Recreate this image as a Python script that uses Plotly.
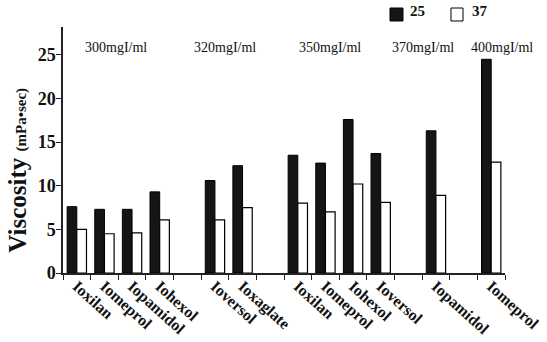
import plotly.graph_objects as go

# Contrast agents, one slot each; empty strings are spacer slots between concentration groups
slot_labels = ["Ioxilan", "Iomeprol", "Iopamidol", "Iohexol", "",
               "Ioversol", "Ioxaglate", "",
               "Ioxilan", "Iomeprol", "Iohexol", "Ioversol", "",
               "Iopamidol", "",
               "Iomeprol"]
# Viscosity (mPa·sec) at 25 °C and 37 °C
visc_25 = [7.6, 7.3, 7.3, 9.3, None, 10.6, 12.3, None, 13.5, 12.6, 17.6, 13.7, None, 16.3, None, 24.5]
visc_37 = [5.0, 4.5, 4.6, 6.1, None, 6.1, 7.5, None, 8.0, 7.0, 10.2, 8.1, None, 8.9, None, 12.7]
temps = ["25", "37"]
concentrations = ["300mgI/ml", "320mgI/ml", "350mgI/ml", "370mgI/ml", "400mgI/ml"]
y_ticks = [0, 5, 10, 15, 20, 25]

SERIF = "Liberation Serif"
slots = list(range(len(slot_labels)))

fig = go.Figure()
fig.add_trace(go.Bar(x=slots, y=visc_25, name=temps[0],
                     marker=dict(color="#151515", line=dict(color="#000", width=1))))
fig.add_trace(go.Bar(x=slots, y=visc_37, name=temps[1],
                     marker=dict(color="#ffffff", line=dict(color="#000", width=1.2))))
# carrier trace for the label axis
fig.add_trace(go.Scatter(x=slots, y=[None] * len(slots), xaxis="x2", yaxis="y",
                         mode="markers", showlegend=False, hoverinfo="skip"))

fig.update_layout(
    width=547, height=342,
    margin=dict(l=63, r=42, t=27, b=69),
    paper_bgcolor="white", plot_bgcolor="white",
    barmode="group", bargap=0.3, bargroupgap=0,
    showlegend=False,
    font=dict(family=SERIF, color="#111"),
    xaxis=dict(
        range=[-0.5, len(slots) - 0.5],
        tickvals=[i - 0.5 for i in range(len(slots) + 1)],
        showticklabels=False, ticks="outside", ticklen=5, tickwidth=1.3, tickcolor="#222",
        showline=True, linecolor="#222", linewidth=1.5,
        showgrid=False, zeroline=False, automargin=False,
    ),
    xaxis2=dict(
        overlaying="x", matches="x", anchor="y", side="bottom",
        tickvals=slots, ticktext=slot_labels, tickangle=42,
        ticks="",
        tickfont=dict(family=SERIF, size=16, weight="bold", color="#111"),
        showline=False, showgrid=False, zeroline=False, automargin=False,
    ),
    yaxis=dict(
        range=[0, 28.2], tickvals=y_ticks,
        ticks="outside", ticklen=5, tickwidth=1.3, tickcolor="#222",
        tickfont=dict(family=SERIF, size=18, weight="bold", color="#111"),
        ticklabelstandoff=-3,
        showline=True, linecolor="#222", linewidth=1.5,
        showgrid=False, zeroline=False, automargin=False,
    ),
)

# Concentration group headings
group_x = [1.42, 5.37, 9.17, 12.54, 15.4]
for gx, txt in zip(group_x, concentrations):
    fig.add_annotation(x=gx, y=25.9, xref="x", yref="y", text=txt, showarrow=False,
                       font=dict(family=SERIF, size=14, color="#111"))

# Y-axis title: large word plus smaller unit
fig.add_annotation(
    x=-0.138, y=0.418, xref="paper", yref="paper", textangle=-90, showarrow=False,
    text="<b>Viscosity</b> <b><span style='font-size:15px'>(mPa•sec)</span></b>",
    font=dict(family=SERIF, size=25, color="#111"),
)

# Legend drawn as swatches + labels
swatches = [(0.7398, 0.7692, "#151515"), (0.8778, 0.9050, "#ffffff")]
label_x = [0.7805, 0.9208]
for (x0, x1, col), lx, t in zip(swatches, label_x, temps):
    fig.add_shape(type="rect", xref="paper", yref="paper", x0=x0, x1=x1, y0=1.0244, y1=1.0772,
                  fillcolor=col, line=dict(color="#000", width=1))
    fig.add_annotation(x=lx, y=1.106, xref="paper", yref="paper", xanchor="left", yanchor="top",
                       text=f"<b>{t}</b>", showarrow=False,
                       font=dict(family=SERIF, size=15, color="#111"))

fig.write_html("out.html")
